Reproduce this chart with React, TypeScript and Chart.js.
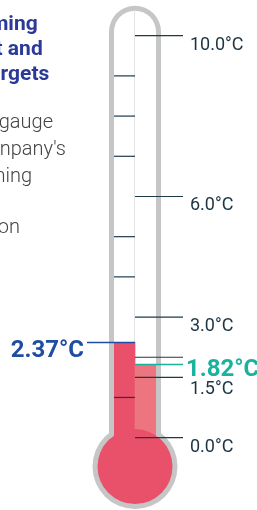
import React, { useEffect, useRef } from "react";
import { Chart, registerables } from "chart.js";

Chart.register(...registerables);

// ---- data ----
const categories = ["Current trajectory", "Pledged targets"];
const warmingValues = [2.37, 1.82];
const valueLabels = ["2.37°C", "1.82°C"];
const minorTicks = [1, 4, 5, 7, 8, 9];
const majorTicks = [0, 1.5, 2, 3, 6, 10];
const majorTickLabels = ["0.0°C", "1.5°C", "", "3.0°C", "6.0°C", "10.0°C"];
const titleLines = ["ming", "t and", "rgets"];
const bodyLines = ["gauge", "npany's", "ming", "", "on"];
const scaleMin = -1.8;
const scaleMax = 10;
const bulbValue = -0.72;

// ---- layout / style ----
const titleRight = [37.7, 42.7, 49.3];
const titleBase = [30, 55, 80];
const bodyRight = [53, 66, 32, 0, 20];
const bodyBase = [128, 155, 182, 209, 233];
const BORDER = 5;
const BULB_R = 37.5;
const TICK_LEN = 48;
const GREY = "#c6c6c6";
const DARK_RED = "#e9506a";
const LIGHT_RED = "#ed7580";
const BLUE = "#1e4da1";
const TEAL = "#17b39e";
const TICK_COLOR = "#1c3a4a";
const LABEL_COLOR = "#1c3442";

const thermoPlugin = {
  id: "thermo",
  beforeDatasetsDraw(chart: any) {
    const { ctx, chartArea: a, scales } = chart;
    const y = scales.y;
    const cx = (a.left + a.right) / 2;
    const half = (a.right - a.left) / 2;
    const arcCy = y.getPixelForValue(scaleMax) - 4;
    const bulbY = y.getPixelForValue(bulbValue);
    ctx.save();
    ctx.fillStyle = GREY;
    ctx.beginPath();
    ctx.moveTo(cx - half - BORDER, bulbY);
    ctx.lineTo(cx - half - BORDER, arcCy);
    ctx.arc(cx, arcCy, half + BORDER, Math.PI, 0);
    ctx.lineTo(cx + half + BORDER, bulbY);
    ctx.closePath();
    ctx.fill();
    ctx.beginPath();
    ctx.arc(cx, bulbY, BULB_R + BORDER, 0, Math.PI * 2);
    ctx.fill();
    ctx.fillStyle = "#ffffff";
    ctx.beginPath();
    ctx.moveTo(cx - half, bulbY);
    ctx.lineTo(cx - half, arcCy);
    ctx.arc(cx, arcCy, half, Math.PI, 0);
    ctx.lineTo(cx + half, bulbY);
    ctx.closePath();
    ctx.fill();
    ctx.strokeStyle = "#e4e4e4";
    ctx.lineWidth = 1;
    ctx.beginPath();
    ctx.moveTo(cx - 0.5, arcCy - half);
    ctx.lineTo(cx - 0.5, bulbY);
    ctx.stroke();
    ctx.restore();
  },
  afterDatasetsDraw(chart: any) {
    const { ctx, chartArea: a, scales } = chart;
    const y = scales.y;
    const cx = (a.left + a.right) / 2;
    const bulbY = y.getPixelForValue(bulbValue);
    ctx.save();
    ctx.fillStyle = DARK_RED;
    ctx.beginPath();
    ctx.arc(cx, bulbY, BULB_R, 0, Math.PI * 2);
    ctx.fill();
    ctx.strokeStyle = TICK_COLOR;
    ctx.lineWidth = 1.2;
    minorTicks.forEach((v) => {
      const py = y.getPixelForValue(v);
      ctx.beginPath();
      ctx.moveTo(a.left, py);
      ctx.lineTo(cx, py);
      ctx.stroke();
    });
    ctx.font = "18px Roboto";
    ctx.fillStyle = LABEL_COLOR;
    ctx.textAlign = "left";
    ctx.textBaseline = "alphabetic";
    majorTicks.forEach((v, i) => {
      const py = y.getPixelForValue(v);
      ctx.beginPath();
      ctx.moveTo(cx, py);
      ctx.lineTo(cx + TICK_LEN, py);
      ctx.stroke();
      if (majorTickLabels[i]) {
        const off = v === 1.5 ? 16.5 : 14;
        ctx.fillText(majorTickLabels[i], cx + 55, py + off);
      }
    });
    ctx.font = "bold 24px Roboto";
    warmingValues.forEach((v, i) => {
      const py = y.getPixelForValue(v);
      const col = i === 0 ? BLUE : TEAL;
      ctx.strokeStyle = col;
      ctx.fillStyle = col;
      ctx.lineWidth = 1.5;
      ctx.beginPath();
      if (i === 0) {
        ctx.moveTo(cx - TICK_LEN, py);
        ctx.lineTo(cx, py);
      } else {
        ctx.moveTo(cx, py);
        ctx.lineTo(cx + TICK_LEN, py);
      }
      ctx.stroke();
      if (i === 0) {
        ctx.textAlign = "right";
        ctx.fillText(valueLabels[i], cx - 51, py + 14.3);
      } else {
        ctx.textAlign = "left";
        ctx.fillText(valueLabels[i], cx + 51, py + 11.7);
      }
    });
    ctx.textAlign = "right";
    ctx.font = "bold 21px Roboto";
    ctx.fillStyle = "#2a3a96";
    titleLines.forEach((t, i) => ctx.fillText(t, titleRight[i], titleBase[i]));
    ctx.font = "300 20px Roboto";
    ctx.fillStyle = "#444444";
    bodyLines.forEach((t, i) => {
      if (t) ctx.fillText(t, bodyRight[i], bodyBase[i]);
    });
    ctx.restore();
  },
};

export default function App() {
  const ref = useRef<HTMLCanvasElement | null>(null);
  useEffect(() => {
    if (!ref.current) return;
    const chart = new Chart(ref.current, {
      type: "bar",
      data: {
        labels: categories,
        datasets: [
          {
            data: warmingValues,
            backgroundColor: [DARK_RED, LIGHT_RED],
            borderWidth: 0,
            barPercentage: 1,
            categoryPercentage: 1,
          },
        ],
      },
      options: {
        responsive: false,
        animation: false,
        devicePixelRatio: 1,
        layout: { padding: { left: 114, right: 101, top: 35.7, bottom: 0 } },
        plugins: { legend: { display: false }, tooltip: { enabled: false } },
        scales: {
          x: { display: false },
          y: { display: false, min: scaleMin, max: scaleMax },
        },
      },
      plugins: [thermoPlugin],
    });
    return () => chart.destroy();
  }, []);
  return (
    <div style={{ position: "absolute", left: 0, top: 0, width: 257, height: 510 }}>
      <canvas ref={ref} width={257} height={510} style={{ display: "block" }} />
    </div>
  );
}
